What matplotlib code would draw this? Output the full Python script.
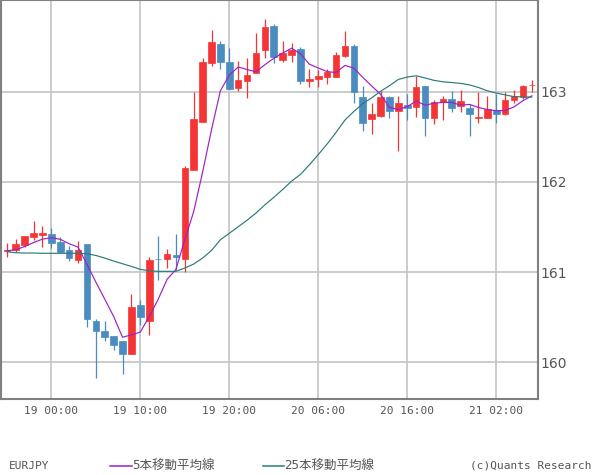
import numpy as np
import pandas as pd
import matplotlib
matplotlib.use("Agg")
import matplotlib.pyplot as plt
from matplotlib.lines import Line2D

# hourly EURJPY candles, 18 19:00 .. 21 06:00
opens = [161.228, 161.247, 161.302, 161.383, 161.416, 161.423, 161.338, 161.247, 161.137, 161.313,
         160.453, 160.343, 160.291, 160.233, 160.093, 160.630, 160.457, 161.148, 161.140, 161.189,
         161.148, 162.129, 162.662, 163.312, 163.521, 163.323, 163.036, 163.114, 163.202, 163.455,
         163.731, 163.353, 163.400, 163.466, 163.114, 163.136, 163.158, 163.165, 163.391, 163.505,
         162.943, 162.690, 162.731, 162.943, 162.780, 162.846, 162.824, 163.066, 162.701, 162.888,
         162.921, 162.835, 162.820, 162.701, 162.701, 162.798, 162.756, 162.902, 162.943, 163.071]
closes = [161.247, 161.313, 161.394, 161.434, 161.434, 161.327, 161.225, 161.151, 161.247, 160.479,
          160.346, 160.280, 160.192, 160.093, 160.611, 160.501, 161.137, 161.142, 161.203, 161.162,
          162.154, 162.691, 163.323, 163.551, 163.323, 163.025, 163.132, 163.187, 163.422, 163.720,
          163.378, 163.422, 163.455, 163.114, 163.143, 163.169, 163.221, 163.406, 163.507, 162.991,
          162.656, 162.750, 162.939, 162.780, 162.875, 162.820, 163.055, 162.712, 162.888, 162.921,
          162.820, 162.899, 162.756, 162.720, 162.805, 162.756, 162.910, 162.954, 163.066, 163.075]
highs = [161.327, 161.368, 161.405, 161.567, 161.512, 161.490, 161.390, 161.291, 161.346, 161.313,
         160.475, 160.453, 160.291, 160.233, 160.762, 160.688, 161.167, 161.401, 161.258, 161.427,
         162.176, 162.989, 163.367, 163.684, 163.555, 163.485, 163.342, 163.367, 163.643, 163.808,
         163.753, 163.562, 163.533, 163.488, 163.254, 163.243, 163.246, 163.438, 163.673, 163.527,
         163.066, 162.868, 163.007, 162.954, 162.954, 162.969, 163.176, 163.066, 162.905, 162.954,
         163.010, 163.021, 162.861, 162.991, 162.954, 162.969, 162.999, 163.018, 163.073, 163.132]
lows = [161.162, 161.217, 161.283, 161.350, 161.283, 161.272, 161.217, 161.118, 161.096, 160.390,
        159.828, 160.236, 160.137, 159.872, 160.093, 160.417, 160.302, 160.909, 161.041, 161.027,
        160.997, 162.129, 162.662, 163.287, 163.246, 163.025, 163.003, 162.926, 163.202, 163.371,
        163.312, 163.323, 163.323, 163.080, 163.047, 163.047, 163.080, 163.165, 163.378, 162.868,
        162.563, 162.534, 162.720, 162.701, 162.344, 162.679, 162.720, 162.512, 162.645, 162.679,
        162.775, 162.775, 162.512, 162.656, 162.701, 162.656, 162.739, 162.869, 162.917, 162.991]

# moving average values before enough candles are visible
ma5_head = [161.236, 161.247, 161.283, 161.327]
ma25_head = [161.225, 161.214, 161.211, 161.211, 161.208, 161.208, 161.208, 161.208, 161.208, 161.203,
             161.184, 161.155, 161.122, 161.092, 161.063, 161.030, 161.015, 161.008, 161.008, 161.008,
             161.045, 161.089, 161.155, 161.239]

tick_pos = [5, 15, 25, 35, 45, 55]
tick_labels = ["19 00:00", "19 10:00", "19 20:00", "20 06:00", "20 16:00", "21 02:00"]
y_ticks = [160, 161, 162, 163]

UP = "#f53535"
DOWN = "#4a8bc0"
MA5_COL = "#a01ec8"
MA25_COL = "#2a7b78"
GRID = "#c8c8c8"
FRAME = "#808080"
TXT = "#555555"
FONT = ["DejaVu Sans Mono", "Noto Sans CJK JP"]

o = np.array(opens)
c = np.array(closes)
h = np.array(highs)
l = np.array(lows)
x = np.arange(len(o))

s = pd.Series(c)
ma5 = s.rolling(5).mean().to_numpy()
ma5[:4] = ma5_head
ma25 = s.rolling(25).mean().to_numpy()
ma25[:24] = ma25_head

fig = plt.figure(figsize=(6, 4.75), dpi=100)
ax = fig.add_axes([0.0015, 1 - 399 / 475, 0.8945, 398.5 / 475])

up = c >= o
cols = np.where(up, UP, DOWN)
ax.vlines(x, l, h, colors=cols, linewidth=0.9, zorder=2)
ax.bar(x, np.abs(c - o), bottom=np.minimum(o, c), width=0.74, color=cols,
       edgecolor=cols, linewidth=0.5, zorder=3)

ax.plot(x, ma5, color=MA5_COL, linewidth=0.85, zorder=4)
ax.plot(x, ma25, color=MA25_COL, linewidth=0.85, zorder=4)

ax.set_xlim(-0.67, 59.65)
ax.set_ylim(159.594, 164.008)
ax.set_xticks(tick_pos)
ax.set_xticklabels(tick_labels, family=FONT, fontsize=8, color=TXT)
ax.set_yticks(y_ticks)
ax.set_yticklabels([str(v) for v in y_ticks], fontsize=10, color=TXT)
ax.yaxis.tick_right()
ax.tick_params(axis="both", length=0)
ax.tick_params(axis="x", pad=5)
ax.tick_params(axis="y", pad=2)
ax.grid(True, color=GRID, linewidth=1.3, zorder=0)
ax.set_axisbelow(True)
for sp in ax.spines.values():
    sp.set_color(FRAME)
    sp.set_linewidth(1.5)

# footer legend
fy = 1 - 466 / 475
fig.text(9 / 600, fy, "EURJPY", family=FONT, fontsize=8, color=TXT, va="center")
fig.add_artist(Line2D([110 / 600, 132 / 600], [fy, fy], color=MA5_COL, linewidth=1.1))
fig.text(132 / 600, fy, "5本移動平均線", family=FONT, fontsize=9, color=TXT, va="center")
fig.add_artist(Line2D([263 / 600, 284 / 600], [fy, fy], color=MA25_COL, linewidth=1.1))
fig.text(284 / 600, fy, "25本移動平均線", family=FONT, fontsize=9, color=TXT, va="center")
fig.text(591 / 600, fy, "(c)Quants Research", family=FONT, fontsize=8, color=TXT,
         va="center", ha="right")

fig.savefig("out.png", dpi=100)
